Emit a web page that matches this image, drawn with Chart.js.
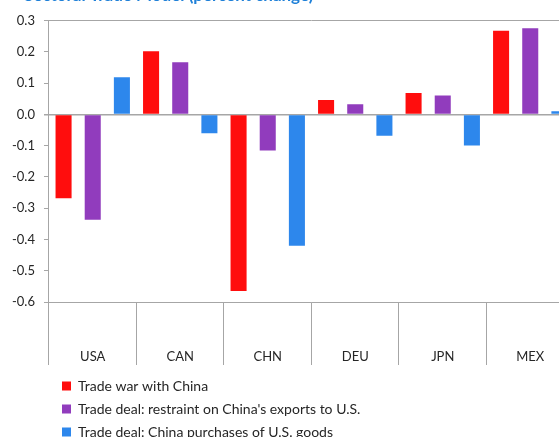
<!DOCTYPE html>
<html>
<head>
<meta charset="utf-8">
<script src="https://cdn.jsdelivr.net/npm/chart.js@4.4.1/dist/chart.umd.min.js"></script>
<style>
  html, body { margin: 0; padding: 0; background: #fff; overflow: hidden; }
  #wrap { position: relative; width: 559px; height: 437px; overflow: hidden; }
  #chart { position: absolute; left: 0; top: -15px; }
</style>
</head>
<body>
<div id="wrap"><canvas id="chart" width="574" height="460"></canvas></div>
<script>
// Chart data
const countries = ['USA', 'CAN', 'CHN', 'DEU', 'JPN', 'MEX'];
const tradeWar = [-0.268, 0.202, -0.565, 0.046, 0.069, 0.268];
const restraint = [-0.337, 0.167, -0.115, 0.033, 0.061, 0.276];
const purchases = [0.119, -0.06, -0.42, -0.068, -0.099, 0.01];
const seriesNames = [
  'Trade war with China',
  "Trade deal: restraint on China's exports to U.S.",
  'Trade deal: China purchases of U.S. goods'
];
const yTicks = [0.3, 0.2, 0.1, 0.0, -0.1, -0.2, -0.3, -0.4, -0.5, -0.6];

const axisGray = '#a6a6a6';
const textColor = '#262626';
const font = { family: 'Lato', size: 13 };

// one legend entry per line, shifted like the original, title nudged right
const layoutTweaks = {
  id: 'layoutTweaks',
  afterLayout(chart) {
    const lg = chart.legend;
    lg.maxWidth = 400;
    lg.fit();
    lg.left = 53;
    lg.right = lg.left + 400;
    lg.top += 3;
    lg.bottom = lg.top + lg.height;
    const t = chart.titleBlock;
    t.left += 21;
    t.right += 21;
  }
};

const ctx = document.getElementById('chart').getContext('2d');
const chart = new Chart(ctx, {
  type: 'bar',
  data: {
    labels: countries,
    datasets: [
      { label: seriesNames[0], data: tradeWar, backgroundColor: '#ff0d0d' },
      { label: seriesNames[1], data: restraint, backgroundColor: '#913cbd' },
      { label: seriesNames[2], data: purchases, backgroundColor: '#2d87ec' }
    ]
  },
  options: {
    responsive: false,
    animation: false,
    devicePixelRatio: 1,
    barPercentage: 0.55,
    categoryPercentage: 1.0,
    layout: { padding: { left: 3, right: 0, top: 0, bottom: 22 } },
    plugins: {
      tooltip: { enabled: false },
      title: {
        display: true,
        text: 'Sectoral Trade Model (percent change)',
        color: '#1f80d8',
        align: 'start',
        font: { family: 'Lato', size: 17 },
        padding: { top: 0, bottom: 15.3 }
      },
      legend: {
        position: 'bottom',
        align: 'start',
        labels: {
          boxWidth: 9,
          boxHeight: 9,
          padding: 9,
          color: textColor,
          font: { family: 'Lato', size: 14 }
        }
      }
    },
    scales: {
      x: {
        offset: true,
        border: { display: true, color: axisGray, width: 1 },
        grid: {
          offset: true,
          drawOnChartArea: false,
          drawTicks: true,
          tickLength: 63,
          color: axisGray
        },
        ticks: {
          color: textColor,
          font: font,
          padding: -16,
          maxRotation: 0
        },
        afterFit: (scale) => { scale.height = 65; }
      },
      y: {
        min: yTicks[yTicks.length - 1],
        max: yTicks[0],
        border: { display: true, color: axisGray, width: 1 },
        grid: {
          drawTicks: true,
          tickLength: 5,
          tickColor: axisGray,
          color: (c) => {
            const v = c.tick ? Math.round(c.tick.value * 10) : null;
            if (v === 0 || v === 3 || v === -6) return axisGray;
            return 'rgba(0,0,0,0)';
          },
          lineWidth: (c) => (c.tick && Math.round(c.tick.value * 10) === 0 ? 1.5 : 1)
        },
        ticks: {
          stepSize: 0.1,
          color: textColor,
          font: font,
          padding: 9,
          callback: (v) => (Math.abs(v) < 1e-9 ? '0.0' : Number(v).toFixed(1))
        }
      }
    }
  },
  plugins: [layoutTweaks]
});
</script>
</body>
</html>
